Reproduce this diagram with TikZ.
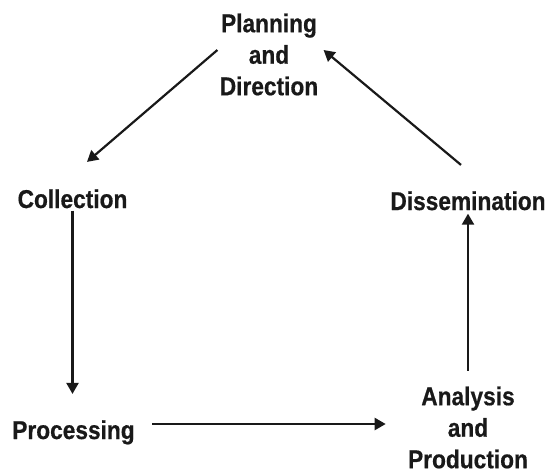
\documentclass[tikz,border=0pt]{standalone}
\usepackage{fontspec}
\setmainfont{Liberation Sans}[FakeStretch=0.88, BoldFeatures={FakeBold=0.6}]
\usetikzlibrary{arrows.meta,calc}

\tikzset{
    stage/.style={font=\bfseries\fontsize{12.9pt}{15.75pt}\selectfont, align=center, inner sep=0pt, text=black!90},
    flow/.style={line width=1.1pt, black!90, -{Triangle[length=5.5pt,width=6pt]}}
}

\begin{document}
\begin{tikzpicture}[x=0.5pt, y=-0.5pt]
        \useasboundingbox (0,0) rectangle (547,473);

        % Place the stages of the cycle
        \node[stage] (plan) at (269,54.5) {Planning\\and\\Direction};
        \node[stage, anchor=base] (coll) at (72.5,208) {Collection};
        \node[stage, anchor=base] (diss) at (468,210) {Dissemination};
        \node[stage, anchor=base] (proc) at (73.5,439) {Processing};
        \node[stage] (anal) at (468,427.5) {Analysis\\and\\Production};

        % Draw the arrows between the stages
        \draw[flow] ($(plan.west)+(-2,-4.5)$) -- ($(coll.north)+(14.5,-27)$);
        \draw[flow] ($(coll.south)+(0,2)$) -- ($(coll.south |- proc.north)+(0,-26)$);
        \draw[flow] ($(proc.base east)+(17,-15)$) -- ($(proc.base east -| anal.west)+(-22,-15)$);
        \draw[flow] ($(anal.north)+(0,-15.5)$) -- ($(diss.south)+(0,3)$);
        \draw[flow] ($(diss.north)+(-7,-26)$) -- ($(plan.east)+(5,-4.5)$);

    \end{tikzpicture}
\end{document}
